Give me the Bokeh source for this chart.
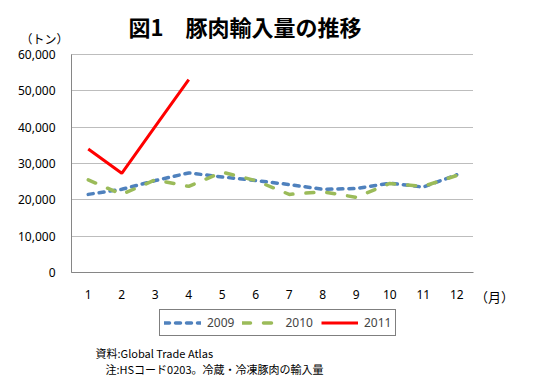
from bokeh.plotting import figure
from bokeh.models import (Label, Legend, LegendItem, Range1d,
                          NumeralTickFormatter, FixedTicker)
from bokeh.embed import file_html
from bokeh.resources import INLINE

months = [1, 2, 3, 4, 5, 6, 7, 8, 9, 10, 11, 12]
v2009 = [21500, 22900, 25300, 27400, 26300, 25300, 24200, 22900, 23100, 24600, 23500, 26900]
v2010 = [25500, 21500, 25500, 23700, 27600, 25300, 21500, 22200, 20700, 24500, 23700, 26700]
months2011 = [1, 2, 3, 4]
v2011 = [34000, 27300, 40200, 53100]
yticks = [0, 10000, 20000, 30000, 40000, 50000, 60000]
series_names = ["2009", "2010", "2011"]

JP = "Noto Sans CJK JP"
W, H = 545, 382
# plot-area box in canvas pixels
FL, FR, FT, FB = 71, 473, 54, 272
xmin, xmax = months[0] - 0.5, months[-1] + 0.5
ymin, ymax = yticks[0], yticks[-1]
xpp = (xmax - xmin) / (FR - FL)
ypp = (ymax - ymin) / (FB - FT)

p = figure(width=W, height=H,
           x_range=Range1d(xmin - FL * xpp, xmax + (W - FR) * xpp),
           y_range=Range1d(ymin - (H - FB) * ypp, ymax + FT * ypp),
           output_backend="svg", toolbar_location=None, min_border=0)
p.outline_line_color = None
p.background_fill_color = "white"
p.border_fill_color = "white"

p.xaxis.fixed_location = ymin
p.yaxis.fixed_location = xmin
p.xaxis.bounds = (xmin, xmax)
p.yaxis.bounds = (ymin, ymax)
p.xaxis.ticker = FixedTicker(ticks=months)
p.yaxis.ticker = FixedTicker(ticks=yticks)
p.yaxis.formatter = NumeralTickFormatter(format="0,0")

for ax in (p.xaxis, p.yaxis):
    ax.axis_line_color = "#868686"
    ax.axis_line_width = 1
    ax.major_tick_line_color = None
    ax.minor_tick_line_color = None
    ax.major_tick_out = 0
    ax.major_tick_in = 0
    ax.minor_tick_out = 0
    ax.minor_tick_in = 0
    ax.major_label_text_font = "Noto Sans"
    ax.major_label_text_font_size = "12px"
    ax.major_label_text_color = "#000000"
p.yaxis.major_label_standoff = 16
p.xaxis.major_label_standoff = 17

p.xgrid.visible = False
p.ygrid.grid_line_color = "#7a7a7a"
p.ygrid.grid_line_dash = "1 1"
p.ygrid.grid_line_width = 1
try:
    p.ygrid.cross_bounds = (xmin, xmax)
except Exception:
    p.ygrid.visible = False
    p.segment(x0=xmin, x1=xmax, y0=yticks[1:], y1=yticks[1:],
              line_color="#7a7a7a", line_dash="1 1", line_width=1)

r1 = p.line(months, v2009, line_color="#4F81BD", line_width=3.5, line_dash="5 6", line_cap="round")
r2 = p.line(months, v2010, line_color="#9BBB59", line_width=3.5, line_dash="8 13", line_cap="round")
r3 = p.line(months2011, v2011, line_color="#FF0000", line_width=3)

legend = Legend(items=[LegendItem(label=series_names[0], renderers=[r1]),
                       LegendItem(label=series_names[1], renderers=[r2]),
                       LegendItem(label=series_names[2], renderers=[r3])],
                orientation="horizontal", location=(159, H - 336),
                border_line_color="black", border_line_width=1,
                label_text_font="Noto Sans", label_text_font_size="12px",
                glyph_width=37, glyph_height=17, label_height=17,
                spacing=8, padding=4, margin=0,
                label_standoff=6, background_fill_color="white", background_fill_alpha=1)
p.add_layout(legend, "center")

def lab(x, y, text, size, bold=False, font=JP, align="left"):
    p.add_layout(Label(x=x, y=H - y, x_units="screen", y_units="screen", text=text,
                       text_font=font, text_font_size=size,
                       text_font_style="bold" if bold else "normal",
                       text_align=align, text_baseline="middle", text_color="#000000"))

lab(128, 25, "図1　豚肉輸入量の推移", "22px", bold=True)
lab(44, 38, "（トン）", "12px", align="center")
lab(494, 296, "（月）", "13px", align="center")
lab(95, 352, "資料:Global Trade Atlas", "11px")
lab(105, 368, "注:HSコード0203。冷蔵・冷凍豚肉の輸入量", "11px")

open("out.html", "w").write(file_html(p, INLINE))
